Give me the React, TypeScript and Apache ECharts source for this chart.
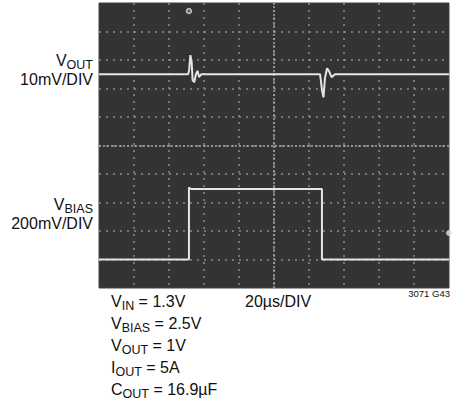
import React, { useEffect, useRef } from "react";
import * as echarts from "echarts";

// Time axis: 20 µs/DIV, 10 divisions
const timeMin = 0;
const timeMax = 200;
const timeStep = 20;

// VOUT trace (10 mV/DIV), deviation from its baseline in mV
const voutTime = [0, 30, 50.9, 51.5, 52.2, 52.9, 53.5, 54.4, 55.4, 56.3, 57.2, 58.4, 126.3, 126.9, 127.4, 128.3, 129.1, 130.3, 131.4, 132.9, 134.9, 200];
const voutMv = [0, 0, 0, 1.4, 6.7, 4.6, -2.1, -2.8, 0, 1.2, -1.0, 0, 0, -2.8, -5.6, -8.1, -1.4, 2.1, 1.1, -1.0, 0, 0];

// VBIAS trace (200 mV/DIV), step in mV
const vbiasTime = [0, 51.4, 51.4, 52.6, 127.4, 127.4, 200];
const vbiasMv = [0, 0, 505, 495, 495, 0, 0];

// Scale / offsets of the two channels (in divisions from the bottom)
const voutMvPerDiv = 10;
const vbiasMvPerDiv = 200;
const voutOffsetDiv = 7.5;
const vbiasOffsetDiv = 1.0;

// Scope markers
const triggerTime = 51.4;

const FONT = "'Liberation Sans', Arial, sans-serif";

function sub(main: string, s: string, rest = "") {
  return `{v|${main}}{s|${s}}` + (rest ? `{v|${rest}}` : "");
}

export default function App() {
  const ref = useRef<HTMLDivElement>(null);
  useEffect(() => {
    if (!ref.current) return;
    const chart = echarts.init(ref.current, undefined, { renderer: "svg" });
    const rich = {
      v: { fontSize: 16, fontFamily: FONT, fill: "#111", lineHeight: 22 },
      s: { fontSize: 12.5, fontFamily: FONT, fill: "#111", lineHeight: 10, verticalAlign: "bottom" },
      p: { fontSize: 16, fontFamily: FONT, fill: "#111", lineHeight: 12 },
    };
    const txt = (x: number, y: number, text: string, align: string) => ({
      type: "text",
      x,
      y,
      silent: true,
      style: { text, rich, align, verticalAlign: "middle", fill: "#111", font: `16px ${FONT}` },
    });
    const voutData = voutTime.map((t, i) => [t, voutOffsetDiv + voutMv[i] / voutMvPerDiv]);
    const vbiasData = vbiasTime.map((t, i) => [t, vbiasOffsetDiv + vbiasMv[i] / vbiasMvPerDiv]);
    const traceStyle = { color: "#e4e4e4", width: 2 };
    chart.setOption({
      animation: false,
      backgroundColor: "#ffffff",
      grid: {
        left: 99,
        top: 3,
        width: 350,
        height: 285,
        show: true,
        backgroundColor: "#333333",
        borderColor: "#444444",
        borderWidth: 1,
      },
      xAxis: {
        type: "value",
        min: timeMin,
        max: timeMax,
        interval: timeStep,
        axisLine: { show: false },
        axisTick: { show: false },
        axisLabel: { show: false },
        splitLine: { show: true, showMinLine: false, showMaxLine: false, lineStyle: { color: "#8c8c8c", type: [2, 5], width: 1.5 } },
      },
      yAxis: {
        type: "value",
        min: 0,
        max: 10,
        interval: 1,
        axisLine: { show: false },
        axisTick: { show: false },
        axisLabel: { show: false },
        splitLine: { show: true, showMinLine: false, showMaxLine: false, lineStyle: { color: "#8c8c8c", type: [2, 5], width: 1.5 } },
      },
      series: [
        {
          type: "line",
          data: vbiasData,
          showSymbol: false,
          lineStyle: traceStyle,
          z: 3,
          markLine: {
            silent: true,
            symbol: "none",
            label: { show: false },
            lineStyle: { color: "#a8a8a8", type: [2, 2], width: 1.5 },
            data: [{ xAxis: (timeMin + timeMax) / 2 }, { yAxis: 5 }],
            z: 2,
          },
        },
        {
          type: "line",
          data: voutData,
          showSymbol: false,
          lineStyle: traceStyle,
          z: 3,
        },
        {
          type: "scatter",
          data: [[triggerTime, 9.72]],
          symbol: "circle",
          symbolSize: 5,
          itemStyle: { color: "#777", borderColor: "#ddd", borderWidth: 1.5 },
          z: 4,
        },
        {
          type: "scatter",
          data: [[timeMax, 1.93]],
          symbol: "circle",
          symbolSize: 6,
          clip: true,
          itemStyle: { color: "#e0e0e0" },
          z: 4,
        },
      ],
      graphic: [
        txt(93, 60.5, sub("V", "OUT"), "right"),
        txt(93, 79, "{p|10mV/DIV}", "right"),
        txt(93, 204.5, sub("V", "BIAS"), "right"),
        txt(93, 223, "{p|200mV/DIV}", "right"),
        txt(111, 301, sub("V", "IN", " = 1.3V"), "left"),
        txt(111, 323, sub("V", "BIAS", " = 2.5V"), "left"),
        txt(111, 345, sub("V", "OUT", " = 1V"), "left"),
        txt(111, 367, sub("I", "OUT", " = 5A"), "left"),
        txt(111, 389, sub("C", "OUT", " = 16.9µF"), "left"),
        txt(245, 301, "{p|20µs/DIV}", "left"),
        {
          type: "text",
          x: 450,
          y: 293,
          silent: true,
          style: { text: "3071 G43", align: "right", verticalAlign: "middle", fill: "#111", font: `9.5px ${FONT}` },
        },
      ],
    });
    return () => chart.dispose();
  }, []);
  return <div ref={ref} style={{ position: "absolute", left: 0, top: 0, width: 452, height: 408 }} />;
}
